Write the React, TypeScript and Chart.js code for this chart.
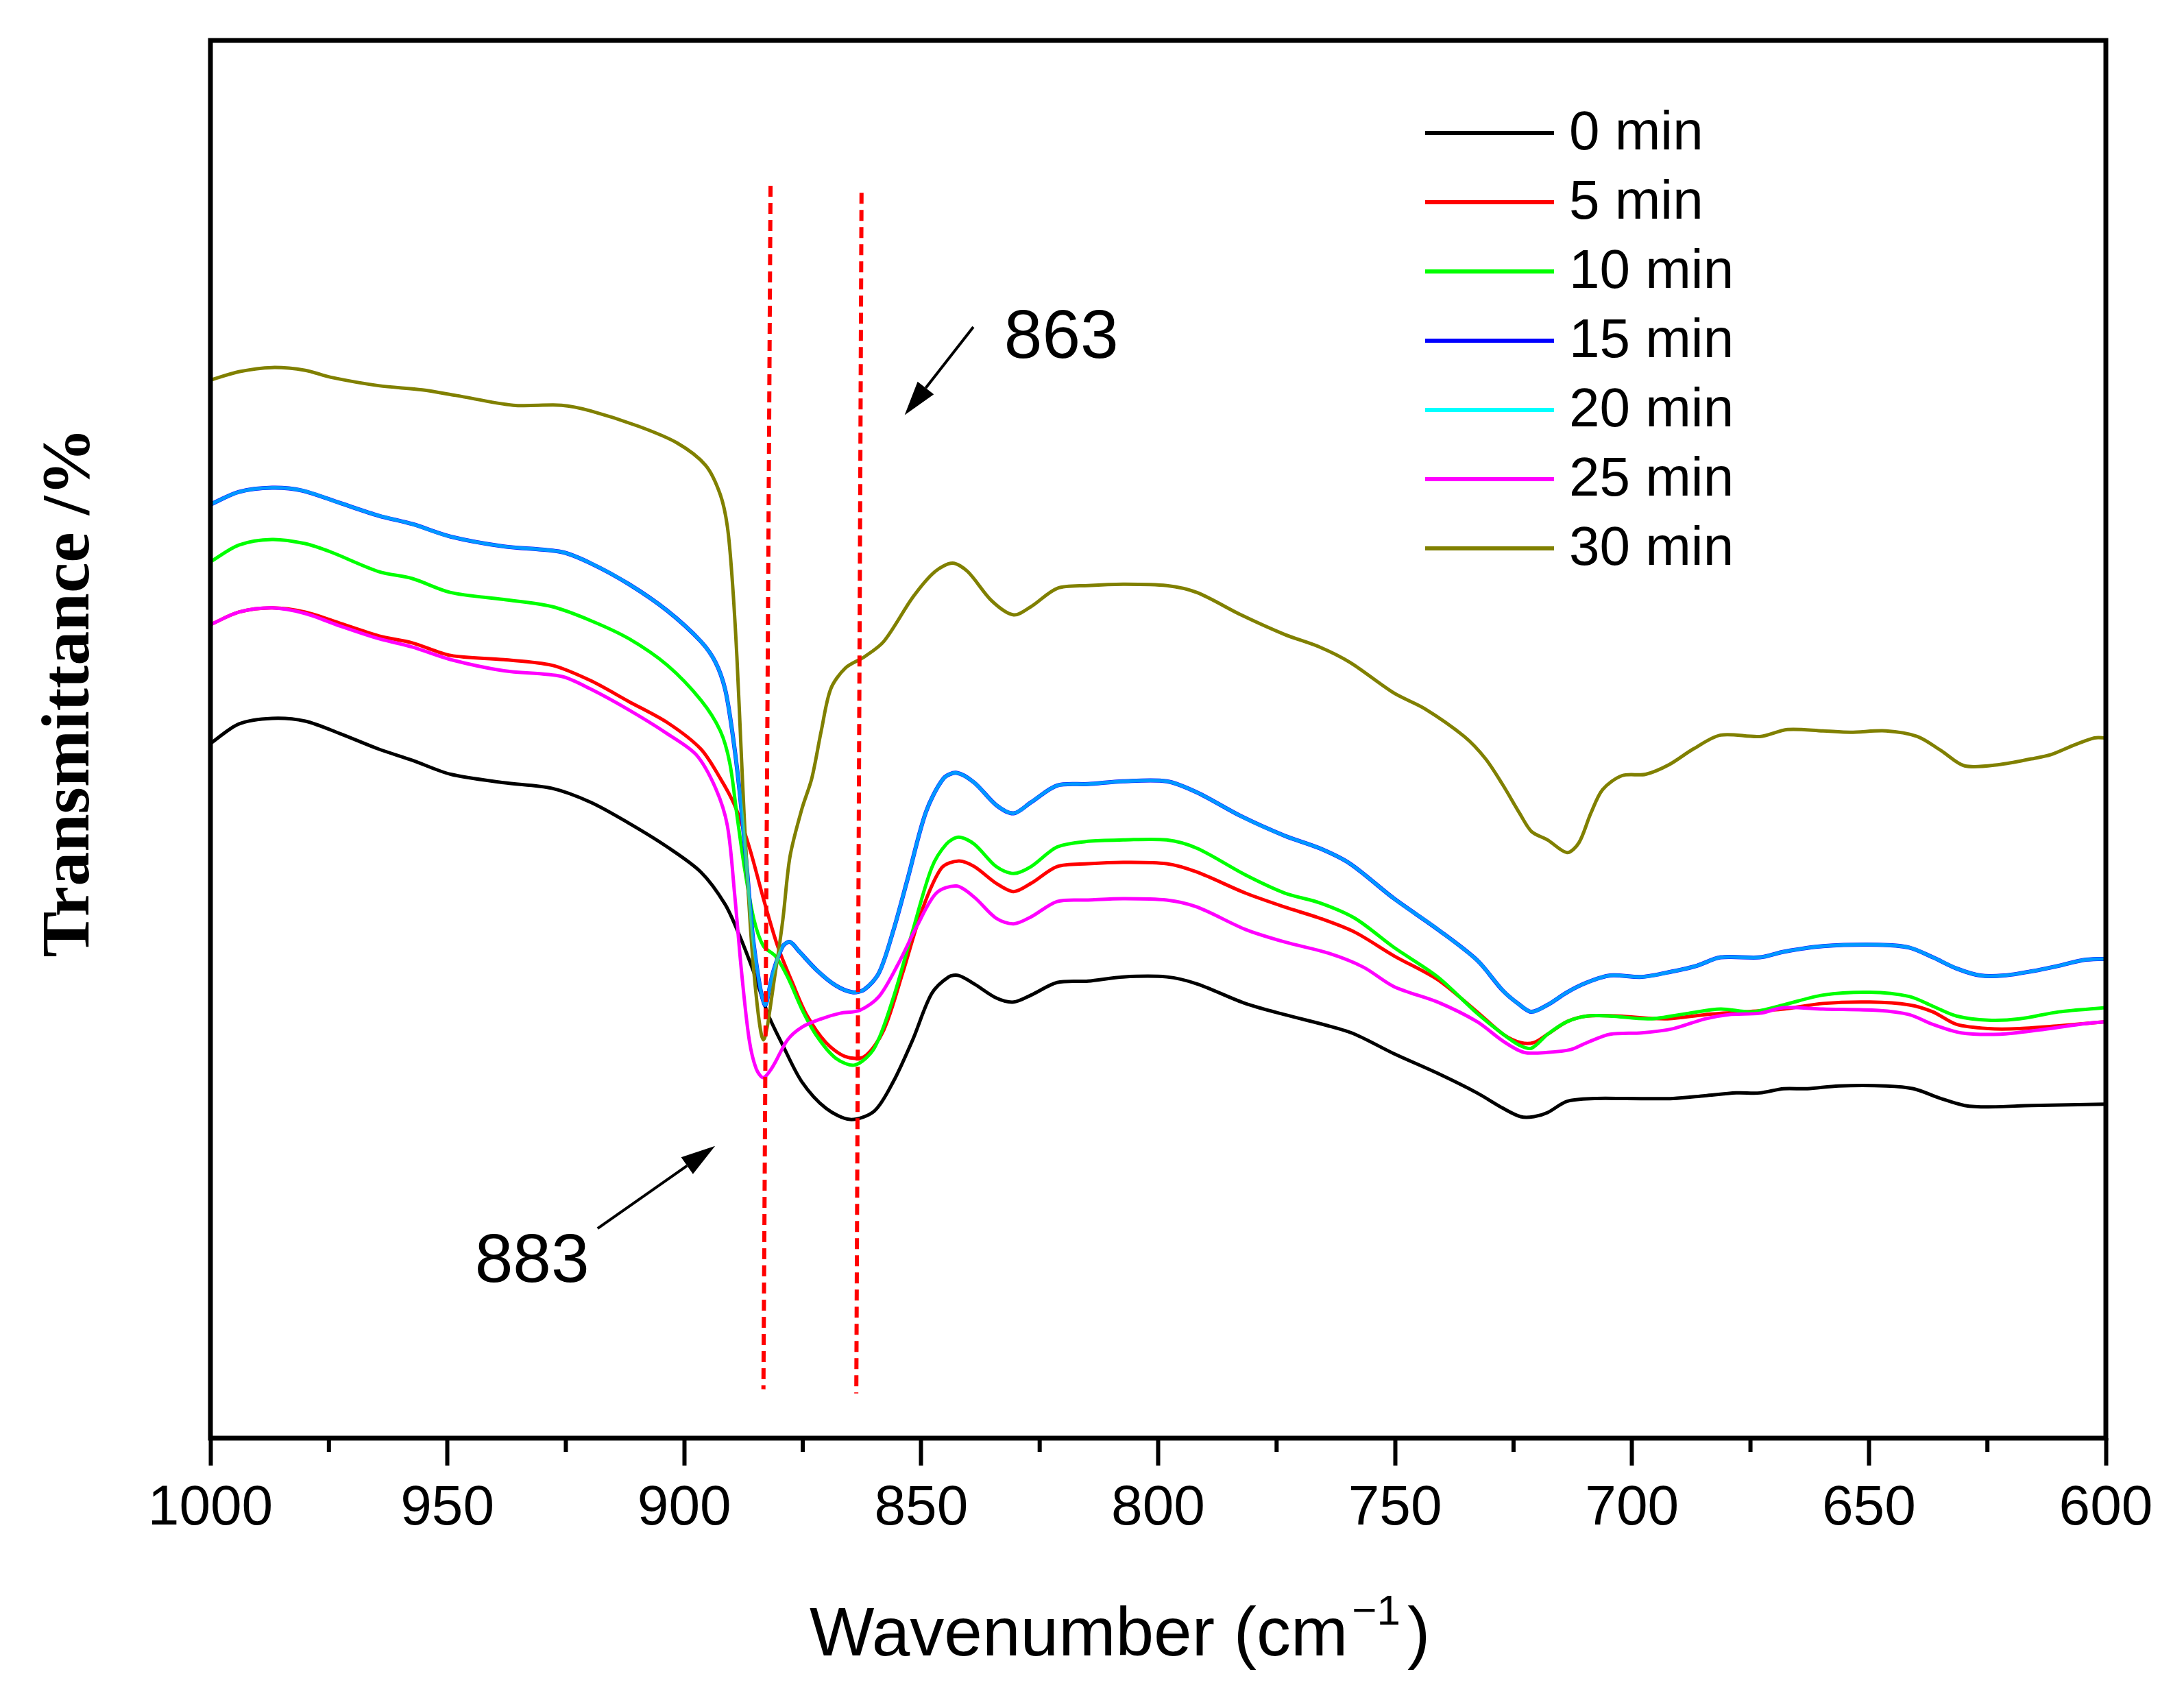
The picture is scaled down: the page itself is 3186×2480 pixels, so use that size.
import { useEffect, useRef } from "react"
import { Chart, registerables } from "chart.js"

Chart.register(...registerables)

// legend entries, in the order they appear
const seriesLabels = ["0 min", "5 min", "10 min", "15 min", "20 min", "25 min", "30 min"]
const seriesColors = ["#000000", "#ff0000", "#00ff00", "#0000ff", "#00ffff", "#ff00ff", "#808000"]

const xTicks = [1000, 950, 900, 850, 800, 750, 700, 650, 600]
const minorTicks = [975, 925, 875, 825, 775, 725, 675, 625]

// [wavenumber, transmittance] (arbitrary units, 0-100)
const min0 = [
  [1000, 49.7], [994, 51.1], [987, 51.5], [980, 51.3], [972.6, 50.4], [964.5, 49.3], [957.4, 48.5], [949.3, 47.5],
  [938.1, 46.9], [928, 46.5], [919.8, 45.5], [911.7, 44.0], [903.6, 42.3], [896.5, 40.5], [891.4, 38.2],
  [888.4, 36.0], [885.3, 33.3], [882.3, 30.3], [879.2, 28.1], [875.2, 25.5], [870.1, 23.6], [865, 22.8],
  [859.9, 23.4], [855.9, 25.5], [851.8, 28.5], [847.8, 31.8], [844.2, 33.0], [842.1, 33.1], [838.8, 32.5],
  [834.2, 31.5], [830.5, 31.2], [826.8, 31.7], [821.3, 32.6], [814.8, 32.7], [807.4, 33.0], [798.2, 33.0],
  [791.8, 32.5], [781.6, 31.1], [773.3, 30.3], [764.1, 29.5], [758.5, 28.9], [750.2, 27.5], [741, 26.1],
  [732.7, 24.7], [727.2, 23.6], [723.5, 23.0], [720.7, 23.0], [717.8, 23.3], [713.7, 24.1], [707.9, 24.3],
  [701.2, 24.3], [691.3, 24.3], [684.6, 24.5], [678, 24.7], [673, 24.7], [668, 25.0], [663, 25.0],
  [656.4, 25.2], [646.4, 25.2], [640.6, 25.0], [634.8, 24.3], [629.8, 23.8], [624.8, 23.7], [615.7, 23.8],
  [600, 23.9],
]

const min5 = [
  [1000, 58.2], [994, 59.1], [987, 59.4], [980, 59.1], [972.6, 58.3], [964.5, 57.4], [957.4, 56.9], [949.3, 56.0],
  [938.1, 55.7], [928, 55.3], [919.8, 54.2], [911.7, 52.7], [903.6, 51.2], [896.5, 49.3], [892.4, 47.2],
  [889.4, 45.3], [886.3, 42.3], [883.3, 38.6], [880.3, 35.2], [877.2, 32.6], [874.2, 30.3], [870.1, 28.3],
  [866, 27.3], [862, 27.3], [857.9, 29.2], [853.9, 33.3], [849.8, 37.8], [845.7, 40.8], [842.1, 41.3],
  [838.8, 40.9], [834.2, 39.7], [830.5, 39.1], [826.8, 39.7], [821.3, 40.9], [814.8, 41.1], [807.4, 41.2],
  [798.2, 41.1], [791.8, 40.5], [781.6, 39.0], [773.3, 38.0], [765.9, 37.2], [758.5, 36.2], [750.2, 34.5],
  [741, 32.8], [732.7, 30.5], [727.2, 28.9], [723.5, 28.3], [720.7, 28.3], [717.8, 28.9], [713.7, 29.8],
  [709.5, 30.2], [702.9, 30.2], [692.9, 30.0], [684.6, 30.3], [676.3, 30.5], [668, 30.7], [659.7, 31.1],
  [649.8, 31.2], [641.5, 31.0], [636.5, 30.5], [631.5, 29.6], [624.8, 29.3], [618.2, 29.3], [609.9, 29.5],
  [600, 29.8],
]

const min10 = [
  [1000, 62.7], [994, 63.9], [987, 64.3], [980, 64.0], [974.6, 63.4], [964.5, 62.0], [957.4, 61.5], [949.3, 60.5],
  [938.1, 60.0], [928, 59.5], [919.8, 58.5], [911.7, 57.2], [903.6, 55.3], [896.5, 52.8], [892.4, 50.6],
  [890.4, 48.3], [888.9, 44.6], [887.3, 40.8], [885.3, 37.1], [883.3, 35.2], [880.8, 34.5], [878.2, 33.0],
  [875.2, 30.7], [872.1, 28.8], [868.1, 27.2], [864, 26.7], [859.9, 27.9], [855.9, 31.5], [851.8, 36.3],
  [847.8, 40.8], [844.7, 42.5], [842.1, 43.0], [838.8, 42.5], [834.2, 40.9], [830.5, 40.4], [826.8, 40.9],
  [821.3, 42.3], [814.8, 42.7], [807.4, 42.8], [798.2, 42.8], [791.8, 42.2], [781.6, 40.3], [773.3, 39.0],
  [765.9, 38.3], [758.5, 37.2], [750.2, 35.1], [741, 33.0], [732.7, 30.4], [727.2, 28.9], [723.7, 28.1],
  [721.2, 27.9], [717.8, 28.9], [713.7, 29.8], [709.5, 30.2], [704.6, 30.2], [696.3, 30.0], [688, 30.4],
  [681.3, 30.7], [674.7, 30.5], [668, 31.0], [659.7, 31.7], [649.8, 31.9], [641.5, 31.6], [636.5, 30.9],
  [631.5, 30.2], [624.8, 29.9], [618.2, 30.0], [609.9, 30.5], [600, 30.8],
]

// 15 min and 20 min lie on top of each other in the figure
const min15 = [
  [1000, 66.8], [994, 67.7], [987, 68.0], [980.7, 67.8], [972.6, 66.9], [964.5, 66.0], [957.4, 65.4], [949.3, 64.5],
  [938.1, 63.8], [925.9, 63.4], [919.8, 62.6], [911.7, 61.1], [903.6, 59.2], [896.5, 57.0], [893.4, 55.5],
  [891.4, 53.6], [889.9, 50.6], [888.4, 46.5], [886.8, 40.8], [885.3, 35.2], [883, 31.0], [881.3, 33.3],
  [879.2, 35.2], [877.7, 35.5], [875.7, 34.8], [872.1, 33.5], [868.1, 32.4], [864.5, 31.9], [862, 32.1],
  [858.9, 33.3], [855.9, 36.3], [852.8, 40.1], [849, 44.8], [845.3, 47.2], [842.5, 47.6], [838.8, 46.9],
  [834.2, 45.3], [830.5, 44.7], [826.8, 45.5], [821.3, 46.7], [814.8, 46.8], [807.4, 47.0], [798.2, 47.0],
  [791.8, 46.2], [782.5, 44.5], [773.3, 43.1], [765.9, 42.2], [759.5, 41.1], [750.2, 38.6], [741, 36.4],
  [732.7, 34.2], [727.2, 32.0], [723.7, 31.0], [721.2, 30.5], [717.8, 31.0], [713.7, 31.9], [709.5, 32.6],
  [704.6, 33.1], [697.9, 33.0], [691.3, 33.4], [686.3, 33.8], [681.3, 34.4], [673, 34.4], [668, 34.8],
  [659.7, 35.2], [648.1, 35.3], [641.5, 35.1], [636.5, 34.4], [631.5, 33.6], [626.5, 33.1], [621.5, 33.1],
  [615.7, 33.4], [609.9, 33.8], [604.9, 34.2], [600, 34.3],
]
const min20 = min15

const min25 = [
  [1000, 58.2], [994, 59.1], [987, 59.4], [980, 59.0], [972.6, 58.1], [964.5, 57.2], [957.4, 56.6], [949.3, 55.7],
  [938.1, 54.9], [925.9, 54.5], [919.8, 53.6], [911.7, 52.1], [903.6, 50.4], [897.5, 48.9], [893.4, 46.5],
  [890.9, 43.8], [889.4, 39.0], [887.9, 33.3], [886.3, 28.5], [884.8, 26.4], [883.3, 25.8], [881.3, 26.6],
  [878.2, 28.5], [875.2, 29.4], [871.1, 30.0], [867.1, 30.4], [863, 30.6], [858.9, 31.6], [854.9, 33.9],
  [850.8, 36.7], [846.8, 39.0], [842.5, 39.5], [838.8, 38.7], [834.2, 37.2], [830.5, 36.8], [826.8, 37.3],
  [821.3, 38.4], [814.8, 38.5], [807.4, 38.6], [798.2, 38.5], [791.8, 38.0], [781.6, 36.4], [773.3, 35.5],
  [764.1, 34.7], [756.7, 33.7], [750.2, 32.3], [741, 31.2], [732.7, 29.8], [727.2, 28.4], [722.8, 27.6],
  [717.8, 27.6], [712.9, 27.8], [709.5, 28.3], [704.6, 28.9], [697.9, 29.0], [691.3, 29.3], [684.6, 30.0],
  [679.6, 30.3], [673, 30.4], [668, 30.8], [659.7, 30.7], [648.1, 30.6], [641.5, 30.3], [636.5, 29.6],
  [630.6, 29.0], [622.3, 28.9], [614.1, 29.2], [605.7, 29.6], [600, 29.8],
]

const min30 = [
  [1000, 75.7], [994, 76.3], [987, 76.6], [980, 76.4], [974.6, 75.9], [964.5, 75.3], [955.3, 75.0], [948.2, 74.6],
  [936.1, 73.9], [925.9, 73.9], [919.8, 73.5], [909.7, 72.4], [901.5, 71.2], [895.5, 69.6], [892.4, 67.5],
  [890.9, 65.2], [889.9, 61.5], [888.9, 55.9], [887.9, 48.4], [886.8, 40.8], [885.3, 33.3], [883.3, 28.5],
  [880.8, 33.3], [879.2, 37.1], [877.7, 41.6], [875.2, 45.0], [873.1, 47.2], [871.1, 50.6], [869.1, 53.6],
  [866, 55.1], [862, 55.9], [857.9, 57.0], [851.7, 60.2], [847.1, 62.0], [843.4, 62.6], [840.2, 62.0],
  [835.1, 59.9], [830.5, 58.9], [826.8, 59.5], [821.3, 60.8], [814.8, 61.0], [807.4, 61.1], [798.2, 61.0],
  [791.8, 60.5], [782.5, 58.9], [773.3, 57.5], [765.9, 56.6], [759.5, 55.5], [750.2, 53.3], [743.8, 52.2],
  [735.4, 50.2], [730.9, 48.6], [727.2, 46.7], [723.7, 44.7], [721.2, 43.4], [717.8, 42.8], [713.7, 41.9],
  [711.2, 42.6], [708.7, 44.7], [706.2, 46.4], [702.1, 47.4], [697.1, 47.5], [692.1, 48.2], [687.1, 49.3],
  [681.3, 50.3], [673, 50.2], [667.2, 50.7], [659.7, 50.6], [653.9, 50.5], [646.4, 50.6], [639.8, 50.2],
  [634.8, 49.2], [629.8, 48.1], [622.3, 48.2], [615.7, 48.6], [611.6, 48.9], [606.6, 49.6], [602.4, 50.1],
  [600, 50.1],
]

// red dotted guide lines (slightly slanted in the original), from top to bottom
const guide883 = [[881.8, 89.6], [883.3, 3.5]]
const guide863 = [[862.6, 89.1], [863.7, 3.2]]

// arrows: [from, tip]
const arrow863 = [[839.0, 79.5], [853.5, 73.2]]
const arrow883 = [[918.3, 15.0], [893.5, 20.9]]

const peakLabels = ["863", "883"]
const peakLabelPos = [[832.5, 77.3], [944.2, 11.2]]

const SANS = "'Liberation Sans', Arial, sans-serif"
const SERIF = "'Liberation Serif', 'Times New Roman', serif"

const toPoints = (pairs: number[][]) => pairs.map(([x, y]) => ({ x, y }))

const decorations = {
  id: "decorations",
  afterDatasetsDraw(chart: any) {
    const { ctx, chartArea: a } = chart
    const xs = chart.scales.x
    const ys = chart.scales.y
    const px = (p: number[]) => [xs.getPixelForValue(p[0]), ys.getPixelForValue(p[1])]

    ctx.save()

    // dotted peak markers
    ctx.strokeStyle = "#ff0000"
    ctx.lineWidth = 6
    ctx.setLineDash([16, 9])
    for (const g of [guide883, guide863]) {
      const [x0, y0] = px(g[0])
      const [x1, y1] = px(g[1])
      ctx.beginPath()
      ctx.moveTo(x0, y0)
      ctx.lineTo(x1, y1)
      ctx.stroke()
    }
    ctx.setLineDash([])

    // arrows
    ctx.strokeStyle = "#000"
    ctx.fillStyle = "#000"
    ctx.lineWidth = 4
    for (const ar of [arrow863, arrow883]) {
      const [x0, y0] = px(ar[0])
      const [x1, y1] = px(ar[1])
      const ang = Math.atan2(y1 - y0, x1 - x0)
      const len = 50
      const hw = 15
      const bx = x1 - len * Math.cos(ang)
      const by = y1 - len * Math.sin(ang)
      ctx.beginPath()
      ctx.moveTo(x0, y0)
      ctx.lineTo(bx, by)
      ctx.stroke()
      ctx.beginPath()
      ctx.moveTo(x1, y1)
      ctx.lineTo(bx + hw * Math.sin(ang), by - hw * Math.cos(ang))
      ctx.lineTo(bx - hw * Math.sin(ang), by + hw * Math.cos(ang))
      ctx.closePath()
      ctx.fill()
    }

    // peak labels
    ctx.font = `100px ${SANS}`
    ctx.textAlign = "left"
    ctx.textBaseline = "alphabetic"
    peakLabels.forEach((t, i) => {
      const [x, y] = px(peakLabelPos[i])
      ctx.fillText(t, x, y)
    })

    // frame
    ctx.lineWidth = 7
    ctx.strokeRect(a.left, a.top, a.right - a.left, a.bottom - a.top)

    // minor ticks on the bottom axis
    ctx.lineWidth = 6
    for (const v of minorTicks) {
      const x = xs.getPixelForValue(v)
      ctx.beginPath()
      ctx.moveTo(x, a.bottom)
      ctx.lineTo(x, a.bottom + 20)
      ctx.stroke()
    }

    // legend inside the plot, upper right
    ctx.font = `80px ${SANS}`
    ctx.textBaseline = "middle"
    seriesLabels.forEach((label, i) => {
      const y = a.top + 135 + i * 101
      ctx.strokeStyle = seriesColors[i]
      ctx.lineWidth = 6
      ctx.beginPath()
      ctx.moveTo(a.left + 1772, y)
      ctx.lineTo(a.left + 1960, y)
      ctx.stroke()
      ctx.fillStyle = "#000"
      ctx.fillText(label, a.left + 1982, y + 2)
    })

    // x title with superscript
    ctx.fillStyle = "#000"
    ctx.textBaseline = "alphabetic"
    ctx.font = `100px ${SANS}`
    const main = "Wavenumber (cm"
    const tx = a.left + 874
    const ty = a.bottom + 317
    ctx.fillText(main, tx, ty)
    let cx = tx + ctx.measureText(main).width + 6
    ctx.font = `62px ${SANS}`
    ctx.fillText("\u22121", cx, ty - 45)
    cx += ctx.measureText("\u22121").width + 10
    ctx.font = `100px ${SANS}`
    ctx.fillText(")", cx, ty)

    // y title
    ctx.translate(a.left - 204, a.top + 951)
    ctx.rotate(-Math.PI / 2)
    ctx.font = `bold 100px ${SERIF}`
    ctx.textAlign = "center"
    ctx.textBaseline = "middle"
    ctx.fillText("Transmittance /%", 0, 0)

    ctx.restore()
  },
}

export default function App() {
  const chartRef = useRef<HTMLCanvasElement>(null)
  const chartInstance = useRef<Chart | null>(null)

  useEffect(() => {
    if (!chartRef.current) return
    if (chartInstance.current) chartInstance.current.destroy()

    const ctx = chartRef.current.getContext("2d")
    if (!ctx) return

    const series = [min0, min5, min10, min15, min20, min25, min30]
    // 20 min drawn half-transparent over 15 min, as the two traces coincide
    const lineColors = [...seriesColors]
    lineColors[4] = "rgba(0, 255, 255, 0.6)"
    const drawOrder = [6, 5, 4, 2, 0, 3, 1]

    chartInstance.current = new Chart(ctx, {
      type: "line",
      data: {
        datasets: series.map((s, i) => ({
          label: seriesLabels[i],
          data: toPoints(s),
          borderColor: lineColors[i],
          backgroundColor: lineColors[i],
          borderWidth: i === 3 ? 6 : 5,
          pointRadius: 0,
          fill: false,
          tension: 0.3,
          borderJoinStyle: "round" as const,
          order: drawOrder[i],
        })),
      },
      options: {
        responsive: false,
        devicePixelRatio: 1,
        animation: false,
        layout: { padding: { left: 307, top: 59, right: 114, bottom: 0 } },
        plugins: {
          legend: { display: false },
          tooltip: { enabled: false },
        },
        scales: {
          x: {
            type: "linear",
            min: 600,
            max: 1000,
            reverse: true,
            afterFit: (scale: any) => {
              scale.height = 382
            },
            afterBuildTicks: (scale: any) => {
              scale.ticks = xTicks.map((v) => ({ value: v }))
            },
            border: { display: false },
            grid: {
              drawOnChartArea: false,
              drawTicks: true,
              tickLength: 40,
              tickWidth: 6,
              tickColor: "#000",
            },
            ticks: {
              color: "#000",
              padding: 14,
              maxRotation: 0,
              autoSkip: false,
              font: { family: SANS, size: 82 },
              callback: (v: any) => String(v),
            },
          },
          y: {
            display: false,
            min: 0,
            max: 100,
          },
        },
      },
      plugins: [decorations],
    })

    return () => {
      if (chartInstance.current) {
        chartInstance.current.destroy()
        chartInstance.current = null
      }
    }
  }, [])

  return (
    <div style={{ position: "absolute", left: 0, top: 0, width: 3186, height: 2480, background: "#fff" }}>
      <canvas ref={chartRef} width={3186} height={2480}></canvas>
    </div>
  )
}
